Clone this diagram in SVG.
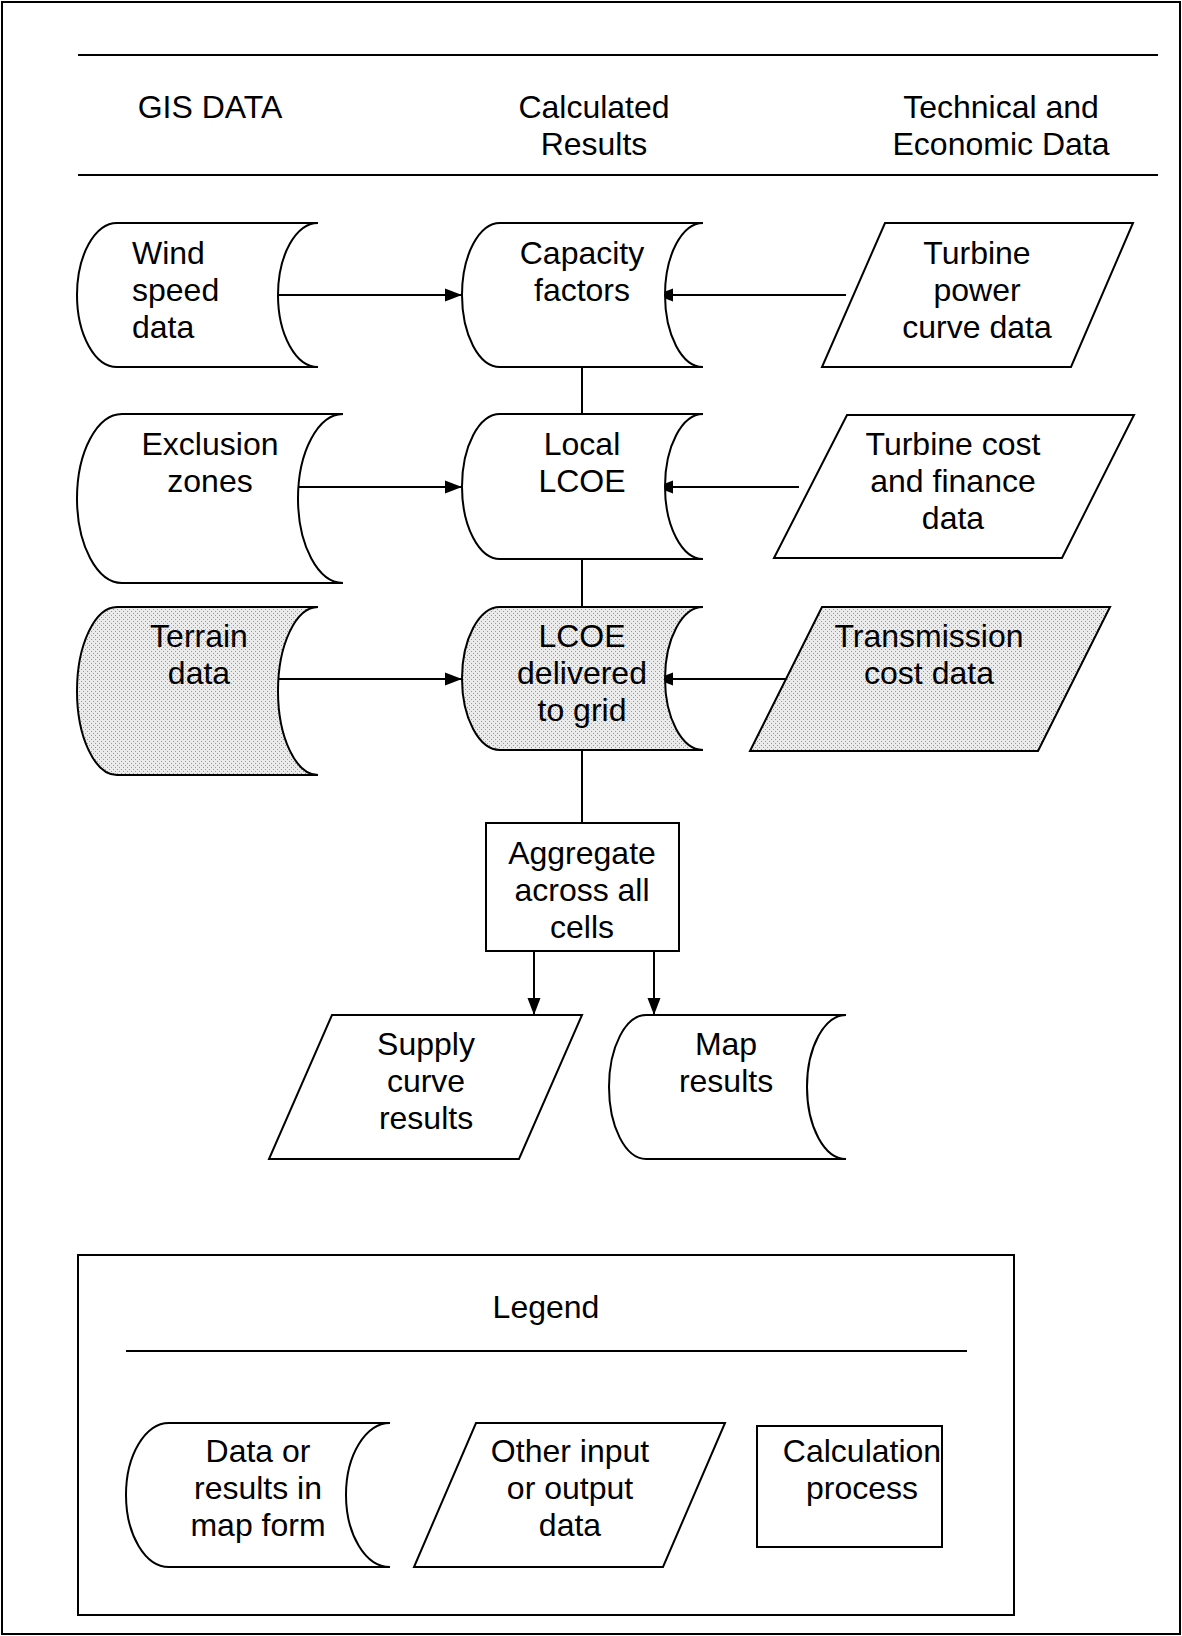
<svg xmlns="http://www.w3.org/2000/svg" width="1182" height="1636" viewBox="0 0 1182 1636">
<style>
  .s{fill:#fff;stroke:#000;stroke-width:2}
  .d{fill:url(#dots);stroke:#000;stroke-width:2}
  .ln{stroke:#000;stroke-width:2;fill:none}
  text{font-family:"Liberation Sans",Arial,sans-serif;font-size:32px;fill:#000}
  .c{text-anchor:middle}
</style>
<defs>
  <pattern id="dots" width="4" height="4" patternUnits="userSpaceOnUse">
    <rect width="4" height="4" fill="#ebebeb"/>
    <rect x="1" y="1" width="1" height="1" fill="#999"/>
    <rect x="3" y="3" width="1" height="1" fill="#999"/>
  </pattern>
  <marker id="ah" markerWidth="17" markerHeight="14" refX="17" refY="7" orient="auto" markerUnits="userSpaceOnUse">
    <path d="M0,0.5 L17,7 L0,13.5 Z" fill="#000"/>
  </marker>
</defs>
<rect x="0" y="0" width="1182" height="1636" fill="#fff"/>
<rect x="2" y="2" width="1178" height="1632" fill="none" stroke="#000" stroke-width="2"/>

<g id="header">
  <line class="ln" x1="78" y1="55" x2="1158" y2="55"/>
  <line class="ln" x1="78" y1="175" x2="1158" y2="175"/>
  <text class="c" x="210" y="118">GIS DATA</text>
  <text class="c" x="594" y="118">Calculated</text>
  <text class="c" x="594" y="155">Results</text>
  <text class="c" x="1001" y="118">Technical and</text>
  <text class="c" x="1001" y="155">Economic Data</text>
</g>

<g id="connectors">
  <line class="ln" x1="270" y1="295" x2="462" y2="295" marker-end="url(#ah)"/>
  <line class="ln" x1="846" y1="295" x2="656" y2="295" marker-end="url(#ah)"/>
  <line class="ln" x1="582" y1="367" x2="582" y2="414"/>
  <line class="ln" x1="293" y1="487" x2="462" y2="487" marker-end="url(#ah)"/>
  <line class="ln" x1="799" y1="487" x2="656" y2="487" marker-end="url(#ah)"/>
  <line class="ln" x1="582" y1="559" x2="582" y2="607"/>
  <line class="ln" x1="270" y1="679" x2="462" y2="679" marker-end="url(#ah)"/>
  <line class="ln" x1="798" y1="679" x2="656" y2="679" marker-end="url(#ah)"/>
  <line class="ln" x1="582" y1="750" x2="582" y2="823"/>
  <line class="ln" x1="534" y1="943" x2="534" y2="1015" marker-end="url(#ah)"/>
  <line class="ln" x1="654" y1="943" x2="654" y2="1015" marker-end="url(#ah)"/>
</g>

<g id="wind">
  <path class="s" d="M117,223 H318 A40,72 0 0 0 318,367 H117 A40,72 0 0 1 117,223 Z"/>
  <text x="132" y="264">Wind</text>
  <text x="132" y="301">speed</text>
  <text x="132" y="338">data</text>
</g>
<g id="capacity">
  <path class="s" d="M500,223 H703 A38,72 0 0 0 703,367 H500 A38,72 0 0 1 500,223 Z"/>
  <text class="c" x="582" y="264">Capacity</text>
  <text class="c" x="582" y="301">factors</text>
</g>
<g id="turbine-power">
  <polygon class="s" points="885,223 1133,223 1071,367 822,367"/>
  <text class="c" x="977" y="264">Turbine</text>
  <text class="c" x="977" y="301">power</text>
  <text class="c" x="977" y="338">curve data</text>
</g>

<g id="exclusion">
  <path class="s" d="M122,414 H343 A45,84.5 0 0 0 343,583 H122 A45,84.5 0 0 1 122,414 Z"/>
  <text class="c" x="210" y="455">Exclusion</text>
  <text class="c" x="210" y="492">zones</text>
</g>
<g id="local-lcoe">
  <path class="s" d="M500,414 H703 A38,72.5 0 0 0 703,559 H500 A38,72.5 0 0 1 500,414 Z"/>
  <text class="c" x="582" y="455">Local</text>
  <text class="c" x="582" y="492">LCOE</text>
</g>
<g id="turbine-cost">
  <polygon class="s" points="847,415 1134,415 1062,558 774,558"/>
  <text class="c" x="953" y="455">Turbine cost</text>
  <text class="c" x="953" y="492">and finance</text>
  <text class="c" x="953" y="529">data</text>
</g>

<g id="terrain">
  <path class="d" d="M117,607 H318 A40,84 0 0 0 318,775 H117 A40,84 0 0 1 117,607 Z"/>
  <text class="c" x="199" y="647">Terrain</text>
  <text class="c" x="199" y="684">data</text>
</g>
<g id="lcoe-delivered">
  <path class="d" d="M500,607 H703 A38,71.5 0 0 0 703,750 H500 A38,71.5 0 0 1 500,607 Z"/>
  <text class="c" x="582" y="647">LCOE</text>
  <text class="c" x="582" y="684">delivered</text>
  <text class="c" x="582" y="721">to grid</text>
</g>
<g id="transmission">
  <polygon class="d" points="822,607 1110,607 1038,751 750,751"/>
  <text class="c" x="929" y="647">Transmission</text>
  <text class="c" x="929" y="684">cost data</text>
</g>

<g id="aggregate">
  <rect class="s" x="486" y="823" width="193" height="128"/>
  <text class="c" x="582" y="864">Aggregate</text>
  <text class="c" x="582" y="901">across all</text>
  <text class="c" x="582" y="938">cells</text>
</g>
<g id="supply">
  <polygon class="s" points="332,1015 582,1015 519,1159 269,1159"/>
  <text class="c" x="426" y="1055">Supply</text>
  <text class="c" x="426" y="1092">curve</text>
  <text class="c" x="426" y="1129">results</text>
</g>
<g id="map-results">
  <path class="s" d="M646,1015 H846 A39,72 0 0 0 846,1159 H646 A37,72 0 0 1 646,1015 Z"/>
  <text class="c" x="726" y="1055">Map</text>
  <text class="c" x="726" y="1092">results</text>
</g>

<g id="legend">
  <rect class="s" x="78" y="1255" width="936" height="360" fill="none"/>
  <text class="c" x="546" y="1318">Legend</text>
  <line class="ln" x1="126" y1="1351" x2="967" y2="1351"/>
  <g id="legend-map">
    <path class="s" d="M169,1423 H390 A44,72 0 0 0 390,1567 H169 A43,72 0 0 1 169,1423 Z"/>
    <text class="c" x="258" y="1462">Data or</text>
    <text class="c" x="258" y="1499">results in</text>
    <text class="c" x="258" y="1536">map form</text>
  </g>
  <g id="legend-io">
    <polygon class="s" points="476,1423 725,1423 663,1567 414,1567"/>
    <text class="c" x="570" y="1462">Other input</text>
    <text class="c" x="570" y="1499">or output</text>
    <text class="c" x="570" y="1536">data</text>
  </g>
  <g id="legend-calc">
    <rect class="s" x="757" y="1426" width="185" height="121"/>
    <text class="c" x="862" y="1462">Calculation</text>
    <text class="c" x="862" y="1499">process</text>
  </g>
</g>
</svg>
